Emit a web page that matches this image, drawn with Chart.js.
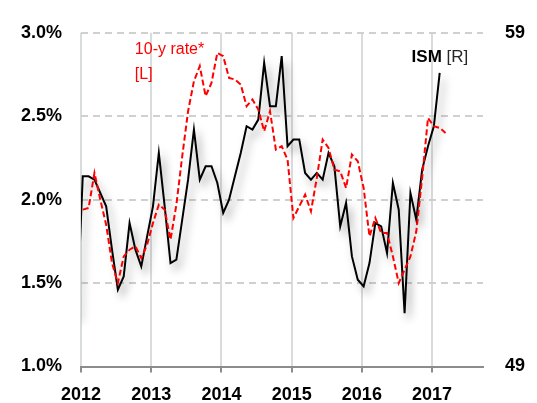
<!DOCTYPE html>
<html lang="en">
<head>
  <meta charset="UTF-8" />
  <title>10-y rate vs ISM</title>
  <style>
    html, body { margin: 0; padding: 0; background: #fff; }
    canvas { display: block; }
  </style>
</head>
<body>
  <canvas id="chart" width="537" height="403"></canvas>

  <script src="https://cdn.jsdelivr.net/npm/chart.js"></script>
  <script>
    // year ticks on the x axis (months counted from Jan 2012)
    const yearLabels = ['2012', '2013', '2014', '2015', '2016', '2017'];

    // 10-y rate, % (left axis), monthly from Jan 2012
    const rateStart = 0;
    const rate10y = [
      1.94, 1.95, 2.16, 2.00, 1.85, 1.62, 1.50, 1.66, 1.70, 1.72, 1.65, 1.73,
      1.86, 1.97, 1.94, 1.76, 1.97, 2.26, 2.53, 2.71, 2.80, 2.62, 2.70, 2.88,
      2.86, 2.73, 2.72, 2.69, 2.56, 2.60, 2.54, 2.41, 2.53, 2.30, 2.32, 2.24,
      1.89, 1.96, 2.03, 1.93, 2.13, 2.36, 2.31, 2.18, 2.17, 2.07, 2.27, 2.23,
      2.07, 1.78, 1.89, 1.80, 1.80, 1.66, 1.50, 1.58, 1.66, 1.81, 2.13, 2.49,
      2.44, 2.43, 2.40
    ];

    // ISM index (right axis), monthly from Dec 2011
    const ismStart = -1;
    const ism = [
      50.5,
      54.7, 54.7, 54.6, 54.2, 53.8, 52.5, 51.3, 51.7, 53.3, 52.5, 52.0, 52.9,
      53.8, 55.4, 53.8, 52.1, 52.2, 53.4, 54.6, 56.1, 54.6, 55.0, 55.0, 54.5,
      53.6, 54.0, 54.7, 55.4, 56.2, 56.1, 56.4, 58.1, 56.8, 56.8, 58.3, 55.6,
      55.8, 55.8, 54.8, 54.6, 54.8, 54.6, 55.4, 55.0, 53.2, 53.9, 52.3, 51.6,
      51.4, 52.1, 53.3, 53.2, 52.4, 54.5, 53.7, 50.6, 54.2, 53.4, 54.9, 55.6,
      56.2, 57.8
    ];

    const FONT = "'Liberation Sans', Arial, sans-serif";
    const OFFSET = 0.3; // points sit a little after the start of their month

    const toPoints = (vals, start) => vals.map((v, i) => ({ x: start + i + OFFSET, y: v }));

    const shadow = {
      id: 'shadow',
      beforeDatasetDraw(chart, args) {
        if (args.index !== 0) return;
        const ctx = chart.ctx;
        ctx.save();
        ctx.shadowColor = 'rgba(0,0,0,0.4)';
        ctx.shadowBlur = 8;
        ctx.shadowOffsetX = 4;
        ctx.shadowOffsetY = 6;
      },
      afterDatasetDraw(chart, args) {
        if (args.index !== 0) return;
        chart.ctx.restore();
      }
    };

    const notes = {
      id: 'notes',
      afterDatasetsDraw(chart) {
        const { ctx, scales: { x, y } } = chart;
        ctx.save();
        ctx.textBaseline = 'alphabetic';
        ctx.textAlign = 'left';
        ctx.fillStyle = '#ff0000';
        ctx.font = `16px ${FONT}`;
        ctx.fillText('10-y rate*', x.getPixelForValue(9.2), y.getPixelForValue(2.87));
        ctx.fillText('[L]', x.getPixelForValue(9.2), y.getPixelForValue(2.725));

        const ix = x.getPixelForValue(56.5);
        const iy = y.getPixelForValue(2.825);
        ctx.fillStyle = '#000';
        ctx.font = `bold 17px ${FONT}`;
        ctx.fillText('ISM', ix, iy);
        const w = ctx.measureText('ISM').width;
        ctx.fillStyle = '#262626';
        ctx.font = `17px ${FONT}`;
        ctx.fillText(' [R]', ix + w, iy);
        ctx.restore();
      }
    };

    new Chart(document.getElementById('chart'), {
      type: 'line',
      data: {
        datasets: [
          {
            label: 'ISM [R]',
            data: toPoints(ism, ismStart),
            yAxisID: 'y2',
            borderColor: '#000',
            borderWidth: 2,
            pointRadius: 0,
            tension: 0,
            order: 2
          },
          {
            label: '10-y rate* [L]',
            data: toPoints(rate10y, rateStart),
            yAxisID: 'y',
            borderColor: '#ff0000',
            borderWidth: 2,
            borderDash: [6, 3],
            pointRadius: 0,
            tension: 0,
            order: 1
          }
        ]
      },
      options: {
        responsive: false,
        animation: false,
        layout: { padding: { top: 22, left: 0, right: 0, bottom: 0 } },
        plugins: {
          legend: { display: false },
          tooltip: { enabled: false }
        },
        scales: {
          x: {
            type: 'linear',
            min: 0,
            max: 68.7,
            afterBuildTicks(scale) {
              scale.ticks = yearLabels.map((_, i) => ({ value: i * 12 }));
            },
            afterFit(scale) { scale.height = 36.5; },
            ticks: {
              callback: (v) => yearLabels[v / 12],
              color: '#000',
              font: { family: FONT, size: 18, weight: 'bold' },
              padding: 12,
              maxRotation: 0,
              autoSkip: false
            },
            grid: {
              color: '#d9dcdc',
              lineWidth: 2,
              tickColor: '#8c8c8c',
              tickLength: 6
            },
            border: { display: true, color: '#8c8c8c', width: 2 }
          },
          y: {
            position: 'left',
            min: 1.0,
            max: 3.0,
            afterFit(scale) { scale.width = 81; },
            ticks: {
              stepSize: 0.5,
              callback: (v) => v.toFixed(1) + '%',
              color: '#000',
              font: { family: FONT, size: 18, weight: 'bold' },
              padding: 19
            },
            grid: {
              color: '#d0d0d0',
              lineWidth: 2,
              drawTicks: false
            },
            border: { display: false, dash: [7, 5] }
          },
          y2: {
            position: 'right',
            min: 49,
            max: 59,
            afterBuildTicks(scale) {
              scale.ticks = [{ value: 49 }, { value: 59 }];
            },
            afterFit(scale) { scale.width = 54; },
            ticks: {
              color: '#000',
              font: { family: FONT, size: 18, weight: 'bold' },
              padding: 22
            },
            grid: { display: false, drawTicks: false },
            border: { display: false }
          }
        }
      },
      plugins: [shadow, notes]
    });
  </script>
</body>
</html>
